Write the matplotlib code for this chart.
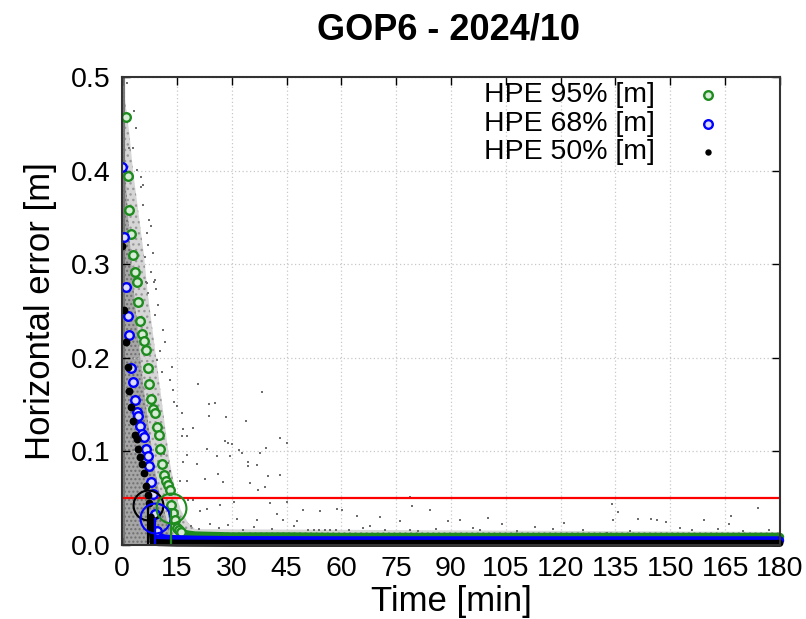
import numpy as np
import matplotlib
matplotlib.use("Agg")
import matplotlib.pyplot as plt

plt.rcParams["font.family"] = ["Liberation Sans", "DejaVu Sans"]
plt.rcParams["hatch.linewidth"] = 1.0

# percentile curves (one point per 30 s epoch)
t95 = np.arange(1.0, 16.5, 0.5)
hpe95 = [0.457, 0.394, 0.358, 0.332, 0.310, 0.292, 0.281, 0.260, 0.239, 0.225,
         0.218, 0.208, 0.189, 0.172, 0.156, 0.145, 0.141, 0.126, 0.118, 0.103,
         0.087, 0.075, 0.068, 0.064, 0.059, 0.043, 0.034, 0.027, 0.018, 0.016, 0.014]
t68 = np.arange(0.0, 10.0, 0.5)
hpe68 = [0.404, 0.329, 0.276, 0.245, 0.224, 0.189, 0.174, 0.155, 0.142, 0.138,
         0.127, 0.119, 0.115, 0.103, 0.095, 0.084, 0.067, 0.055, 0.033, 0.015]
t50 = np.arange(0.0, 8.0, 0.5)
hpe50 = [0.319, 0.251, 0.217, 0.190, 0.165, 0.147, 0.133, 0.118, 0.113, 0.103,
         0.094, 0.087, 0.077, 0.063, 0.053, 0.045]

# converged part, too dense to tell single epochs apart
tail95_t = [16, 17, 18, 20, 25, 30, 45, 60, 90, 120, 150, 180]
tail95 = [0.014, 0.012, 0.011, 0.010, 0.0095, 0.009, 0.009, 0.0085, 0.0085, 0.0085, 0.0085, 0.0085]
tail68_t = [9.5, 10, 12, 15, 20, 30, 60, 90, 120, 150, 180]
tail68 = [0.015, 0.008, 0.0065, 0.006, 0.0055, 0.005, 0.0048, 0.0048, 0.0048, 0.0048, 0.0048]
tail50_t = [8.0, 8.5, 10, 15, 30, 60, 90, 120, 150, 180]
tail50 = [0.030, 0.003, 0.0025, 0.002, 0.0018, 0.0018, 0.0018, 0.0018, 0.0018, 0.0018]

# convergence markers (time, error) for 50/68/95 %
conv_t = [7.2, 9.0, 13.5]
conv_e = [0.043, 0.029, 0.040]
conv_col = ["black", "blue", "#1e8c1e"]

# envelope of the cloud of single epochs (light halo and dense core)
cloud_t = [0, 1, 2, 3, 4, 5, 6, 7, 8, 9, 10, 11, 12, 13, 14, 15, 16, 18, 20, 180]
cloud_top = [0.50, 0.47, 0.44, 0.40, 0.37, 0.34, 0.31, 0.27, 0.24, 0.21, 0.18,
             0.15, 0.12, 0.09, 0.07, 0.05, 0.038, 0.024, 0.017, 0.014]
core_t = [0, 1, 2, 3, 4, 5, 6, 7, 8, 9, 10, 11, 12, 13]
core_top = [0.47, 0.39, 0.33, 0.28, 0.24, 0.20, 0.165, 0.135, 0.105, 0.08, 0.06, 0.045, 0.03, 0.016]

# scattered single epochs outside the dense cloud
out_t = [1.45, 3.4, 3.8, 2.0, 3.1, 5.7, 5.1, 5.8, 7.5, 7.8, 7.2, 6.8, 6.3, 8.6, 7.8, 9.0,
         6.9, 9.3, 4.0, 5.2, 7.2, 9.9, 9.0, 11.3, 11.8, 13.6, 10.9, 14.0, 13.1, 15.0, 14.3,
         6.6, 8.8, 9.5, 10.4, 16.3, 16.8, 17.7, 18.1, 20.9, 38.3, 23.9, 25.3, 23.9, 28.4,
         33.9, 16.4, 19.3, 16.8, 17.9, 43.2, 45.2, 28.2, 29.1, 30.0, 32.1, 32.7, 23.2, 25.9,
         37.7, 39.3, 34.4, 34.4, 36.8, 40.0, 43.2, 17.7, 20.4, 15.9, 22.7, 26.2, 27.7, 29.5,
         35.0, 37.3, 39.1, 78.8, 79.2, 84.2, 89.3, 92.5, 58.7, 45.0, 49.6, 54.2, 60.3, 64.2,
         70.6, 76.0, 40.5, 42.3, 30.5, 26.8, 23.2, 21.3, 19.5, 31.4, 36.8, 44.1, 51.0, 52.5,
         54.0, 55.5, 57.0, 58.5, 47.8, 67.8, 78.8, 134.0, 135.8, 134.2, 141.2, 144.6, 146.4,
         148.7, 152.6, 159.2, 166.6, 166.1, 174.1, 132.6, 104.0, 113.0, 121.0, 96.0, 100.0,
         19.0, 21.0, 24.0, 26.5, 29.0, 33.0, 36.0, 41.0, 47.0, 62.0, 66.0, 72.0, 81.0, 86.0,
         98.0, 108.0, 118.0, 126.0, 139.0, 156.0, 163.0, 170.0, 177.0, 12.5, 13.0, 11.5]
out_e = [0.494, 0.464, 0.445, 0.424, 0.424, 0.385, 0.383, 0.363, 0.347, 0.341, 0.321, 0.333,
         0.308, 0.312, 0.292, 0.283, 0.280, 0.273, 0.401, 0.393, 0.269, 0.256, 0.246, 0.230,
         0.217, 0.190, 0.185, 0.166, 0.176, 0.148, 0.153, 0.281, 0.281, 0.198, 0.207, 0.116,
         0.089, 0.068, 0.048, 0.172, 0.163, 0.151, 0.152, 0.138, 0.137, 0.132, 0.141, 0.125,
         0.124, 0.116, 0.114, 0.109, 0.111, 0.1095, 0.108, 0.101, 0.098, 0.103, 0.095, 0.098,
         0.104, 0.089, 0.084, 0.085, 0.074, 0.075, 0.096, 0.087, 0.068, 0.071, 0.076, 0.067,
         0.095, 0.066, 0.059, 0.062, 0.051, 0.042, 0.037, 0.026, 0.027, 0.039, 0.046, 0.037,
         0.036, 0.037, 0.031, 0.030, 0.026, 0.045, 0.033, 0.046, 0.043, 0.039, 0.036, 0.048,
         0.028, 0.027, 0.027, 0.016, 0.016, 0.016, 0.016, 0.016, 0.016, 0.026, 0.020, 0.016,
         0.044, 0.035, 0.027, 0.028, 0.028, 0.027, 0.025, 0.018, 0.027, 0.031, 0.023, 0.040,
         0.013, 0.022, 0.019, 0.024, 0.018, 0.029,
         0.020, 0.017, 0.022, 0.018, 0.021, 0.016, 0.019, 0.017, 0.020, 0.016, 0.018, 0.016,
         0.015, 0.017, 0.016, 0.015, 0.017, 0.016, 0.015, 0.016, 0.017, 0.015, 0.016, 0.088,
         0.079, 0.097]

labels = ["HPE 95% [m]", "HPE 68% [m]", "HPE 50% [m]"]
green = "#1e8c1e"

fig = plt.figure(figsize=(8.06, 6.19), dpi=100)
ax = fig.add_axes([0.1514, 0.1195, 0.8163, 0.7561])

# gray cloud of single epochs
ax.fill_between(cloud_t, 0, cloud_top, facecolor="#d6d6d6", edgecolor="#9a9a9a",
                hatch="...", linewidth=0, zorder=1)
ax.fill_between(core_t, 0, core_top, facecolor="#a6a6a6", edgecolor="#707070",
                hatch="....", linewidth=0, zorder=1)
ax.vlines(0.3, 0, 0.5, color="#787878", lw=3, zorder=1)
ax.scatter(out_t, out_e, s=3, marker="s", color="#6e6e6e", linewidths=0, zorder=2)

ax.axhline(0.05, color="red", lw=1.6, zorder=3)

# converged bands
ax.plot(tail95_t, tail95, color=green, lw=6.2, solid_capstyle="round", zorder=4, clip_on=False)
ax.plot(tail68_t, tail68, color="blue", lw=6.2, solid_capstyle="round", zorder=5, clip_on=False)
ax.plot(tail50_t, tail50, color="black", lw=5.0, solid_capstyle="round", zorder=6, clip_on=False)

ax.plot(t95, hpe95, ls="none", marker="o", ms=6.2, mfc="#d8ecd8", mec=green, mew=1.7, zorder=4)
ax.plot(t68, hpe68, ls="none", marker="o", ms=6.2, mfc="#dcdcff", mec="blue", mew=1.7, zorder=5)
ax.plot(t50, hpe50, ls="none", marker="o", ms=4.6, color="black", zorder=6)

for ct, ce, cc in zip(conv_t, conv_e, conv_col):
    ax.vlines(ct, 0, ce, color=cc, lw=1.6, zorder=7)
    ax.plot(ct, ce, marker="o", ms=21.5, mfc="none", mec=cc, mew=1.5, zorder=7)

# key, gnuplot style: text right-justified, sample on the right
key_y = [0.9615, 0.8996, 0.8397]
key_style = [dict(ms=6.2, mfc="#d8ecd8", mec=green, mew=1.7),
             dict(ms=6.2, mfc="#dcdcff", mec="blue", mew=1.7),
             dict(ms=4.6, mfc="black", mec="black", mew=0)]
for lab, ky, st in zip(labels, key_y, key_style):
    ax.text(0.810, ky, lab, transform=ax.transAxes, ha="right", va="center", fontsize=20.5, zorder=8)
    ax.plot(0.8906, ky, marker="o", transform=ax.transAxes, ls="none", zorder=8, **st)

ax.set_xlim(0, 180)
ax.set_ylim(0, 0.5)
ax.set_xticks(np.arange(0, 181, 15))
ax.set_yticks(np.arange(0, 0.51, 0.1))
ax.yaxis.set_major_formatter(matplotlib.ticker.FormatStrFormatter("%.1f"))
ax.tick_params(direction="in", length=6, width=1, top=True, right=True,
               labelsize=20.5, pad=8, colors="black")
ax.grid(True, color="#c8c8c8", ls=(0, (1, 2)), lw=0.9)
for sp in ax.spines.values():
    sp.set_linewidth(1.5)
    sp.set_color("#333333")
    sp.set_zorder(9)

ax.set_xlabel("Time [min]", fontsize=25, labelpad=2)
ax.set_ylabel("Horizontal error [m]", fontsize=25, labelpad=10)
fig.text(0.557, 0.952, "GOP6 - 2024/10", ha="center", va="center", fontsize=26, fontweight="bold")

fig.savefig("out.png", dpi=100)
